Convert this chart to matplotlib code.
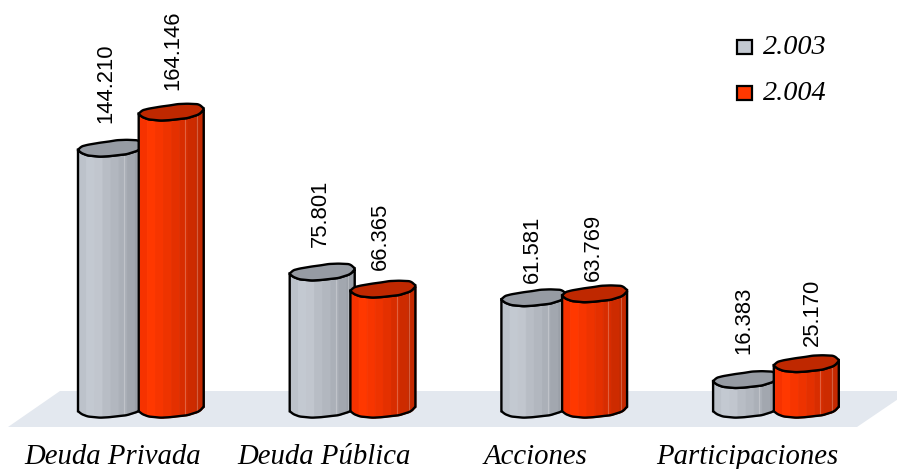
import numpy as np
import matplotlib
matplotlib.use("Agg")
import matplotlib.pyplot as plt
from matplotlib.patches import Polygon, Rectangle

categories = ["Deuda Privada", "Deuda Pública", "Acciones", "Participaciones"]
years = ["2.003", "2.004"]
values_2003 = [144210, 75801, 61581, 16383]
values_2004 = [164146, 66365, 63769, 25170]
labels_2003 = ["144.210", "75.801", "61.581", "16.383"]
labels_2004 = ["164.146", "66.365", "63.769", "25.170"]

PX = 0.00181    # pixels per unit on the value axis
W, H = 897, 469
BASE = 411      # pixel row of value 0, at the left corner of a cylinder

# colour bands across a cylinder, left to right
gray_bands = ["#bcc2ca", "#c3c9d1", "#c1c6ce", "#b8bdc5", "#b2b7bf", "#abb0b8", "#a2a7af", "#9a9fa7"]
red_bands = ["#f63200", "#ff3800", "#f73500", "#ee3300", "#e43000", "#d82d00", "#cd2b00", "#c52900"]
gray_cap = "#969ba3"
red_cap = "#bf2800"

# wobbly outline of the cap, x from 0 to 1, offset in pixels from left corner (down positive)
prof_x = [0, .05, .15, .34, .48, .6, .75, .92, .98, 1]
prof_front = [0, 3, 5.5, 6.7, 6.2, 5.3, 4.2, 0.7, -2.5, -5]
prof_back = [0, -3.5, -5.2, -7.3, -8.5, -9.8, -10.2, -9.7, -7, -5]


def smooth(xs, ys, t):
    y = np.interp(t, xs, ys)
    return np.convolve(np.pad(y, 2, mode="edge"), np.ones(5) / 5, "valid")


def cylinder(ax, left, width, value, bands, cap_col, z):
    # everything goes in value units on y, pixels on x
    t = np.linspace(0, 1, 81)
    front = smooth(prof_x, prof_front, t)
    back = smooth(prof_x, prof_back, t)
    xs = left + t * width
    top_front = value - front / PX
    bot_front = -front / PX
    top_back = value - back / PX
    n = len(bands)
    for i, c in enumerate(bands):
        a = int(i * 80 / n)
        b = int((i + 1) * 80 / n)
        ax.fill_between(xs[a:b + 1], bot_front[a:b + 1], top_front[a:b + 1], fc=c, ec=c, lw=0.6, zorder=z)
    for tt in (0.72, 0.9):
        k = int(tt * 80)
        ax.plot([xs[k], xs[k]], [bot_front[k], top_front[k]], color="white", alpha=0.25, lw=0.8, zorder=z)
    body = np.r_[np.c_[xs, top_front], np.c_[xs[::-1], bot_front[::-1]]]
    ax.add_patch(Polygon(body, closed=True, fc="none", ec="black", lw=1.7, zorder=z + 0.1))
    cap = np.r_[np.c_[xs, top_front], np.c_[xs[::-1], top_back[::-1]]]
    ax.add_patch(Polygon(cap, closed=True, fc=cap_col, ec="black", lw=1.7, zorder=z + 0.2))


fig = plt.figure(figsize=(W / 100, H / 100), dpi=100)
ax = fig.add_axes([0, 0, 1, 1])
ax.set_xlim(0, W)
ax.set_ylim(-(H - BASE) / PX, BASE / PX)
ax.axis("off")


def row(p):
    return (BASE - p) / PX


ax.add_patch(Polygon([(8, row(427)), (857, row(427)), (910, row(391)), (60, row(391))],
                     closed=True, fc="#e3e8ef", ec="none", zorder=1))

group_left = 78
group_step = 211.7
cat_x = [113, 324, 536, 747]
for i, cat in enumerate(categories):
    x0 = group_left + i * group_step
    cylinder(ax, x0, 65, values_2003[i], gray_bands, gray_cap, 2 + i)
    cylinder(ax, x0 + 60.7, 65, values_2004[i], red_bands, red_cap, 2.5 + i)
    ax.text(cat_x[i], row(457), cat, family="Liberation Serif", style="italic",
            fontsize=20.7, ha="center", va="center", zorder=20)

label_x_2003 = [106, 320, 532, 744]
label_x_2004 = [173, 380, 593, 812]
label_y_2003 = [123, 247, 283, 354]
label_y_2004 = [90, 270, 281, 346]
for i in range(4):
    ax.text(label_x_2003[i], row(label_y_2003[i]), labels_2003[i], family="Liberation Sans", fontsize=15.8,
            rotation=90, ha="center", va="bottom", zorder=20)
    ax.text(label_x_2004[i], row(label_y_2004[i]), labels_2004[i], family="Liberation Sans", fontsize=15.8,
            rotation=90, ha="center", va="bottom", zorder=20)

# legend
for y_px, col, yr in zip([47, 93], ["#c3c9d1", "#ff3800"], years):
    ax.add_patch(Rectangle((737, row(y_px + 7)), 15, 14 / PX, fc=col, ec="black", lw=1.6, zorder=20))
    ax.text(763, row(y_px), yr, family="Liberation Serif", style="italic", fontsize=20.3,
            ha="left", va="center", zorder=20)

fig.savefig("out.png", dpi=100)
